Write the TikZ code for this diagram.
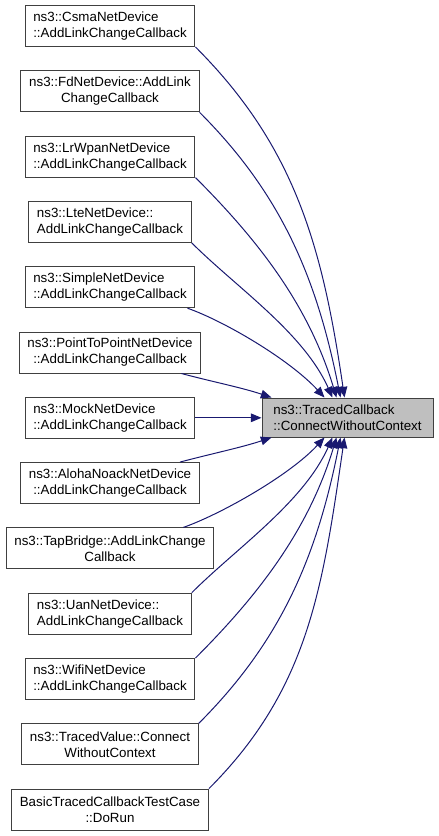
\documentclass[tikz,border=0pt]{standalone}
\usepackage{fontspec}
\setmainfont{Liberation Sans}
\usetikzlibrary{arrows.meta,calc}
\definecolor{edgeblue}{HTML}{191970}
\definecolor{boxborder}{HTML}{404040}
\definecolor{tgtfill}{HTML}{BFBFBF}
\begin{document}
\begin{tikzpicture}[x=0.75pt,y=-0.75pt,
  box/.style={draw=boxborder, line width=0.75pt, fill=white, minimum height=30.75pt,
    inner xsep=6.2pt, inner ysep=2pt, font=\fontsize{10pt}{12pt}\selectfont},
  lbox/.style={box, align=left},
  cbox/.style={box, align=center},
  tgtbox/.style={box, align=left, fill=tgtfill, minimum width=128.25pt, minimum height=29.25pt},
  conn/.style={draw=edgeblue, line width=0.75pt, -{Triangle[length=8pt,width=6.5pt]}}
]
\useasboundingbox (0,0) rectangle (439,836);

\node[lbox] (csma)   at (110,26)    {ns3::CsmaNetDevice\\::AddLinkChangeCallback};
\node[cbox] (fd)     at (110,91.3)  {ns3::FdNetDevice::AddLink\\ChangeCallback};
\node[lbox] (lrwpan) at (110,156.6) {ns3::LrWpanNetDevice\\::AddLinkChangeCallback};
\node[lbox] (lte)    at (110,221.9) {ns3::LteNetDevice::\\AddLinkChangeCallback};
\node[lbox] (simple) at (110,287.2) {ns3::SimpleNetDevice\\::AddLinkChangeCallback};
\node[cbox] (p2p)    at (110,352.5) {ns3::PointToPointNetDevice\\::AddLinkChangeCallback};
\node[lbox] (mock)   at (110,417.8) {ns3::MockNetDevice\\::AddLinkChangeCallback};
\node[cbox] (aloha)  at (110,483.1) {ns3::AlohaNoackNetDevice\\::AddLinkChangeCallback};
\node[cbox] (tap)    at (110,548.4) {ns3::TapBridge::AddLinkChange\\Callback};
\node[lbox] (uan)    at (110,613.7) {ns3::UanNetDevice::\\AddLinkChangeCallback};
\node[lbox] (wifi)   at (110,679)   {ns3::WifiNetDevice\\::AddLinkChangeCallback};
\node[cbox] (tv)     at (110,744.3) {ns3::TracedValue::Connect\\WithoutContext};
\node[cbox] (basic)  at (110,809.6) {BasicTracedCallbackTestCase\\::DoRun};

\node[tgtbox] (tgt) at (347.5,417.5) {ns3::TracedCallback\\::ConnectWithoutContext};

% upper connectors
\draw[conn] (csma.south east) .. controls +(100,100) and +(-22,-150) .. ($(tgt.north west)+(83,0)$);
\draw[conn] (fd.south east) .. controls +(81,81) and +(-24,-121) .. ($(tgt.north west)+(79,0)$);
\draw[conn] (lrwpan.south east) .. controls +(62,62) and +(-28,-93) .. ($(tgt.north west)+(75,0)$);
\draw[conn] (lte.south east) .. controls +(44,44) and +(-29,-65) .. ($(tgt.north west)+(71,0)$);
\draw[conn] ($(simple.south east)+(-8,0)$) .. controls +(37,13) and +(-35,-38) .. ($(tgt.north west)+(63,0)$);
\draw[conn] ($(p2p.south east)+(-20,0)$) .. controls +(30,8) and +(-30,-10) .. ($(tgt.north west)+(10,0)$);
% middle
\draw[conn] (mock.east) -- (mock.east -| tgt.west);
% lower connectors
\draw[conn] ($(aloha.north east)+(-20,0)$) .. controls +(30,-8) and +(-30,10) .. ($(tgt.south west)+(10,0)$);
\draw[conn] ($(tap.north east)+(-31,0)$) .. controls +(37,-13) and +(-35,38) .. ($(tgt.south west)+(63,0)$);
\draw[conn] (uan.north east) .. controls +(44,-44) and +(-29,65) .. ($(tgt.south west)+(71,0)$);
\draw[conn] (wifi.north east) .. controls +(62,-62) and +(-28,93) .. ($(tgt.south west)+(75,0)$);
\draw[conn] (tv.north east) .. controls +(81,-81) and +(-24,121) .. ($(tgt.south west)+(79,0)$);
\draw[conn] (basic.north east) .. controls +(100,-100) and +(-22,150) .. ($(tgt.south west)+(83,0)$);
\end{tikzpicture}
\end{document}
